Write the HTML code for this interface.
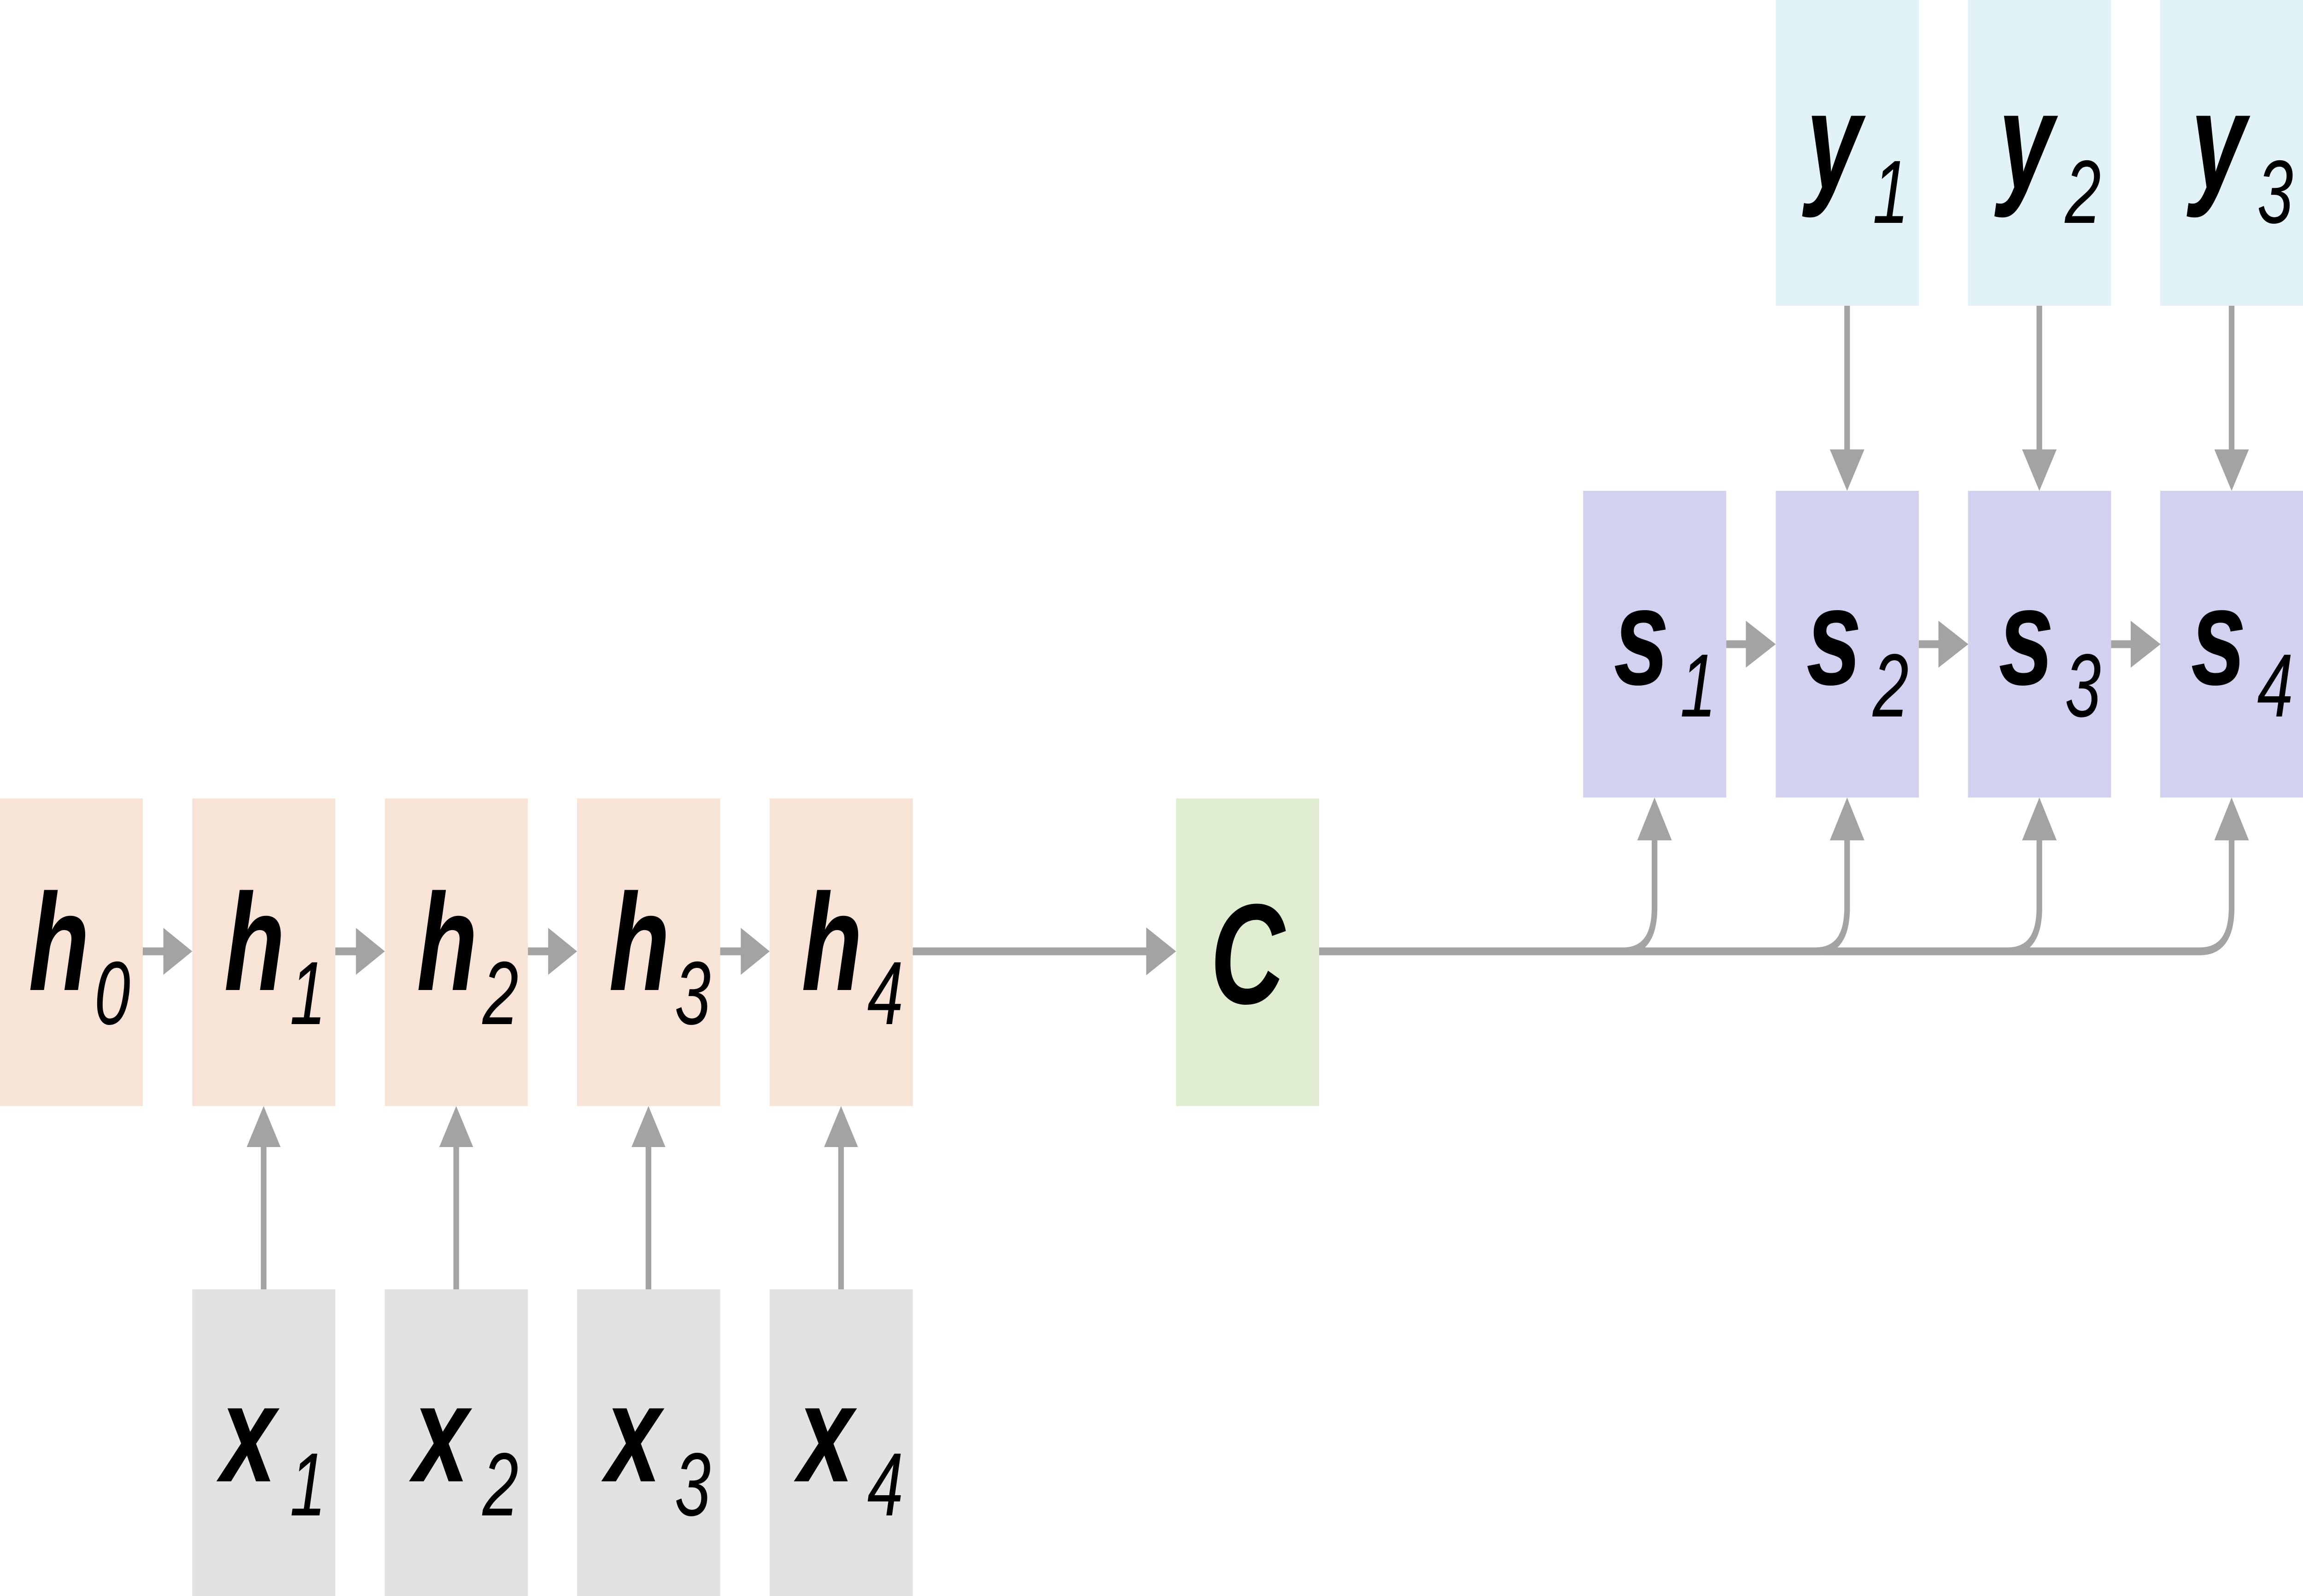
<!DOCTYPE html>
<html><head><meta charset="utf-8"><style>
html,body{margin:0;padding:0;background:#fff;overflow:hidden;width:100%;height:100%;}
svg{display:block;position:fixed;left:0;top:0;width:100vw;height:100vh;}
text{font-family:"Liberation Sans","DejaVu Sans",sans-serif;fill:#000;}
.m{font-weight:bold;font-style:italic;font-size:300px;}
.sb{font-style:italic;font-size:195px;font-weight:normal;}
</style></head><body>
<svg viewBox="0 0 6936 3466" preserveAspectRatio="none" xmlns="http://www.w3.org/2000/svg">
<g fill="#f8e3d7">
<rect x="0" y="1734" width="430" height="668"/>
<rect x="579" y="1734" width="431" height="668"/>
<rect x="1159" y="1734" width="431" height="668"/>
<rect x="1738" y="1734" width="431" height="668"/>
<rect x="2318" y="1734" width="431" height="668"/>
</g>
<g fill="#e2e2e2">
<rect x="579" y="2800" width="431" height="666"/>
<rect x="1159" y="2800" width="431" height="666"/>
<rect x="1738" y="2800" width="431" height="666"/>
<rect x="2318" y="2800" width="431" height="666"/>
</g>
<rect x="3542" y="1734" width="431" height="668" fill="#e0edd1"/>
<g fill="#d2d2f0">
<rect x="4768" y="1066" width="431" height="666"/>
<rect x="5348" y="1066" width="431" height="666"/>
<rect x="5927" y="1066" width="431" height="666"/>
<rect x="6506" y="1066" width="430" height="666"/>
</g>
<g fill="#e2f3f8">
<rect x="5348" y="0" width="431" height="664"/>
<rect x="5927" y="0" width="431" height="664"/>
<rect x="6506" y="0" width="430" height="664"/>
</g>
<g stroke="#a3a3a3" stroke-width="17" fill="none">
<line x1="430" y1="2066" x2="500" y2="2066"/>
<line x1="1010" y1="2066" x2="1080" y2="2066"/>
<line x1="1590" y1="2066" x2="1660" y2="2066"/>
<line x1="2169" y1="2066" x2="2239" y2="2066"/>
<line x1="2749" y1="2066" x2="3460" y2="2066"/>
<line x1="794" y1="2800" x2="794" y2="2480"/>
<line x1="1374" y1="2800" x2="1374" y2="2480"/>
<line x1="1953" y1="2800" x2="1953" y2="2480"/>
<line x1="2533" y1="2800" x2="2533" y2="2480"/>
<line x1="5199" y1="1399" x2="5265" y2="1399"/>
<line x1="5779" y1="1399" x2="5845" y2="1399"/>
<line x1="6358" y1="1399" x2="6424" y2="1399"/>
<line x1="5563" y1="664" x2="5563" y2="985"/>
<line x1="6142" y1="664" x2="6142" y2="985"/>
<line x1="6721" y1="664" x2="6721" y2="985"/>
<path d="M3973 2066 H6626 Q6721 2066 6721 1971 V1815"/>
<path d="M4888 2066 Q4983 2066 4983 1971 V1815"/>
<path d="M5468 2066 Q5563 2066 5563 1971 V1815"/>
<path d="M6047 2066 Q6142 2066 6142 1971 V1815"/>
</g>
<g fill="#a3a3a3">
<polygon points="492,2015 579,2066 492,2117"/>
<polygon points="1072,2015 1159,2066 1072,2117"/>
<polygon points="1651,2015 1738,2066 1651,2117"/>
<polygon points="2231,2015 2318,2066 2231,2117"/>
<polygon points="3452,2014 3542,2066 3452,2118"/>
<polygon points="743,2491 794,2402 845,2491"/>
<polygon points="1323,2491 1374,2402 1425,2491"/>
<polygon points="1902,2491 1953,2402 2004,2491"/>
<polygon points="2482,2491 2533,2402 2584,2491"/>
<polygon points="5258,1348 5348,1399 5258,1450"/>
<polygon points="5838,1348 5928,1399 5838,1450"/>
<polygon points="6417,1348 6507,1399 6417,1450"/>
<polygon points="4931,1825 4983,1732 5035,1825"/>
<polygon points="5511,1825 5563,1732 5615,1825"/>
<polygon points="6090,1825 6142,1732 6194,1825"/>
<polygon points="6669,1825 6721,1732 6773,1825"/>
<polygon points="5511,976 5563,1066 5615,976"/>
<polygon points="6090,976 6142,1066 6194,976"/>
<polygon points="6669,976 6721,1066 6773,976"/>
</g>
<text class="m" x="86" y="2150">h</text><text class="sb" x="284" y="2224">0</text>
<text class="m" x="675" y="2150">h</text><text class="sb" x="873" y="2224">1</text>
<text class="m" x="1255" y="2150">h</text><text class="sb" x="1453" y="2224">2</text>
<text class="m" x="1834" y="2150">h</text><text class="sb" x="2032" y="2224">3</text>
<text class="m" x="2414" y="2150">h</text><text class="sb" x="2612" y="2224">4</text>
<text class="m" x="665" y="3217">x</text><text class="sb" x="873" y="3291">1</text>
<text class="m" x="1245" y="3217">x</text><text class="sb" x="1453" y="3291">2</text>
<text class="m" x="1824" y="3217">x</text><text class="sb" x="2032" y="3291">3</text>
<text class="m" x="2404" y="3217">x</text><text class="sb" x="2612" y="3291">4</text>
<text class="m" x="3757" y="2179" text-anchor="middle" style="font-size:310px">C</text>
<text class="m" x="4860" y="1486">s</text><text class="sb" x="5060" y="1556">1</text>
<text class="m" x="5440" y="1486">s</text><text class="sb" x="5640" y="1556">2</text>
<text class="m" x="6019" y="1486">s</text><text class="sb" x="6219" y="1556">3</text>
<text class="m" x="6598" y="1486">s</text><text class="sb" x="6798" y="1556">4</text>
<text class="m" x="5440" y="410">y</text><text class="sb" x="5640" y="484">1</text>
<text class="m" x="6019" y="410">y</text><text class="sb" x="6219" y="484">2</text>
<text class="m" x="6598" y="410">y</text><text class="sb" x="6798" y="484">3</text>
</svg>
</body></html>
